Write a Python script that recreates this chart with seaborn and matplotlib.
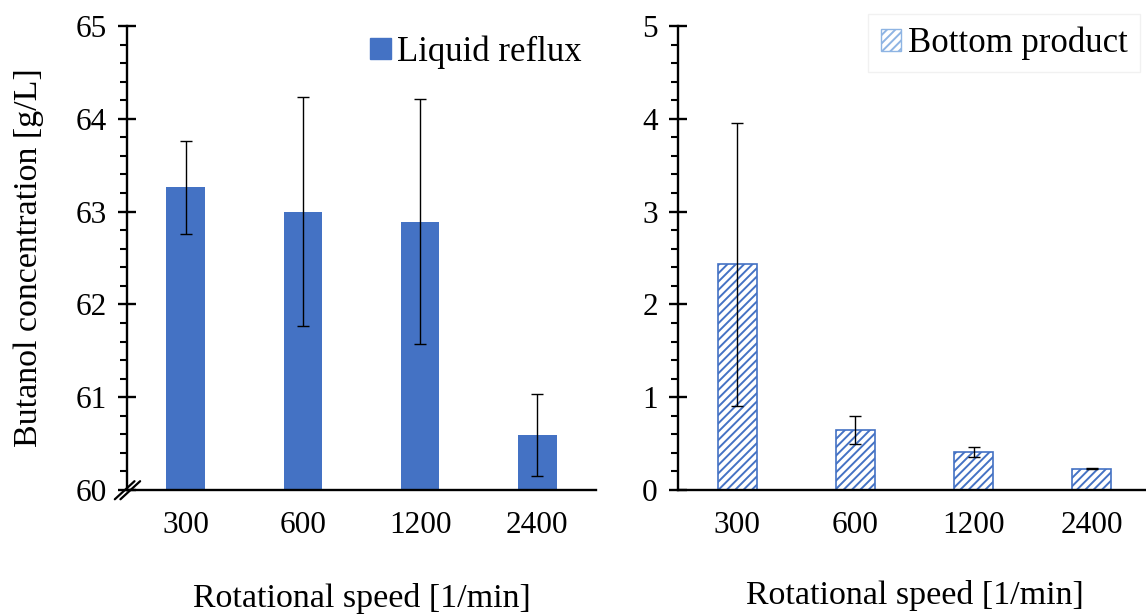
import matplotlib
matplotlib.use("Agg")
import matplotlib.pyplot as plt
import matplotlib.patches as mpatches
from matplotlib.ticker import MultipleLocator
import seaborn as sns
import pandas as pd

# Rotational speed settings and measured butanol concentrations [g/L]
speeds = ["300", "600", "1200", "2400"]
reflux_mean = [63.26, 63.00, 62.89, 60.59]
reflux_err = [0.50, 1.23, 1.32, 0.44]
bottom_mean = [2.43, 0.65, 0.41, 0.23]
bottom_err = [1.53, 0.15, 0.05, 0.005]

sns.set_theme(style="white")
plt.rcParams["font.family"] = ["Liberation Serif", "DejaVu Serif"]
plt.rcParams["text.color"] = "black"
plt.rcParams["axes.labelcolor"] = "black"
plt.rcParams["hatch.linewidth"] = 1.4

BLUE = "#4472C4"
TICK_FS = 22.5
LABEL_FS = 24.5
LEG_FS = 25

fig = plt.figure(figsize=(11.46, 6.15), dpi=100)
ax1 = fig.add_axes([127 / 1146, 125 / 615, 469 / 1146, 464 / 615])
ax2 = fig.add_axes([678 / 1146, 125 / 615, 473 / 1146, 464 / 615])

df_reflux = pd.DataFrame({"speed": speeds, "conc": reflux_mean})
df_bottom = pd.DataFrame({"speed": speeds, "conc": bottom_mean})

sns.barplot(data=df_reflux, x="speed", y="conc", color=BLUE, saturation=1,
            width=0.33, errorbar=None, ax=ax1, linewidth=0)
sns.barplot(data=df_bottom, x="speed", y="conc", color="white", saturation=1,
            width=0.33, errorbar=None, ax=ax2, linewidth=1.2,
            edgecolor=BLUE, hatch="////")

err_kw = dict(fmt="none", ecolor="black", elinewidth=1.0, capsize=4.5,
              capthick=1.0, zorder=5)
ax1.errorbar(range(len(speeds)), reflux_mean, yerr=reflux_err, **err_kw)
ax2.errorbar(range(len(speeds)), bottom_mean, yerr=bottom_err, **err_kw)

for ax, (lo, hi) in ((ax1, (60, 65)), (ax2, (0, 5))):
    ax.set_ylim(lo, hi)
    ax.set_xlim(-0.5, 3.5)
    ax.yaxis.set_major_locator(MultipleLocator(1))
    ax.yaxis.set_minor_locator(MultipleLocator(0.2))
    for side in ("top", "right"):
        ax.spines[side].set_visible(False)
    for side in ("left", "bottom"):
        ax.spines[side].set_linewidth(1.7)
        ax.spines[side].set_color("black")
    ax.tick_params(axis="y", which="major", direction="inout", length=13,
                   width=1.7, colors="black", labelsize=TICK_FS, pad=8,
                   left=True)
    ax.tick_params(axis="y", which="minor", direction="out", length=5,
                   width=1.5, colors="black", left=True)
    ax.tick_params(axis="x", which="both", length=0, labelsize=TICK_FS,
                   pad=15, colors="black")
    ax.set_ylabel("")

ax1.set_xlabel("Rotational speed [1/min]", fontsize=LABEL_FS, labelpad=31)
ax2.set_xlabel("Rotational speed [1/min]", fontsize=LABEL_FS, labelpad=29)
ax1.set_ylabel("Butanol concentration [g/L]", fontsize=LABEL_FS, labelpad=23)

# axis-break marks at the origin of the truncated axis
trans = ax1.transAxes
for dx in (0.0, 0.012):
    ax1.plot([-0.026 + dx, 0.016 + dx], [-0.020, 0.019], transform=trans,
             color="black", lw=1.6, clip_on=False, zorder=6)

h1 = mpatches.Patch(facecolor=BLUE, edgecolor=BLUE, label="Liquid reflux")
ax1.legend(handles=[h1], loc="upper right", frameon=False, fontsize=LEG_FS,
           handlelength=0.58, handleheight=0.58, handletextpad=0.2,
           borderaxespad=0.0, bbox_to_anchor=(1.0, 1.01))

h2 = mpatches.Patch(facecolor="white", edgecolor="#8EB4E3", hatch="////",
                    label="Bottom product")
leg2 = ax2.legend(handles=[h2], loc="upper right", frameon=True,
                  fontsize=LEG_FS, handlelength=0.58, handleheight=0.58,
                  handletextpad=0.2, borderaxespad=0.0,
                  bbox_to_anchor=(0.976, 1.025), borderpad=0.35,
                  fancybox=False, edgecolor="#eeeeee")
leg2.get_frame().set_linewidth(1.0)

fig.savefig("out.png", dpi=100, facecolor="white")
